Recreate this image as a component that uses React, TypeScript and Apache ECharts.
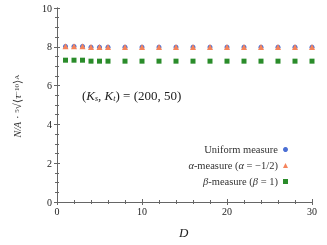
import React, { useEffect, useRef } from "react";
import * as echarts from "echarts";

const dValues = [1, 2, 3, 4, 5, 6, 8, 10, 12, 14, 16, 18, 20, 22, 24, 26, 28, 30];
const uniformValues = [8.02, 8.02, 8.02, 7.98, 7.98, 7.98, 7.98, 7.98, 7.98, 7.98, 7.98, 7.98, 7.98, 7.98, 7.98, 7.98, 7.98, 7.98];
const alphaValues = [8.03, 8.03, 8.03, 7.99, 7.99, 7.99, 7.99, 7.99, 7.99, 7.99, 7.99, 7.99, 7.99, 7.99, 7.99, 7.99, 7.99, 7.99];
const betaValues = [7.31, 7.31, 7.31, 7.26, 7.26, 7.26, 7.26, 7.26, 7.26, 7.26, 7.26, 7.26, 7.26, 7.26, 7.26, 7.26, 7.26, 7.26];

const FONT = "'Liberation Serif', 'DejaVu Serif', serif";
const AXIS_COLOR = "#666";

const pair = (ys: number[]) => dValues.map((d, i) => [d, ys[i]]);

export default function App() {
  const ref = useRef<HTMLDivElement>(null);
  useEffect(() => {
    if (!ref.current) return;
    const chart = echarts.init(ref.current, undefined, { renderer: "svg" });
    const axisCommon = {
      axisLine: { show: true, lineStyle: { color: AXIS_COLOR, width: 1 } },
      axisTick: { show: true, inside: true, length: 3, lineStyle: { color: AXIS_COLOR } },
      minorTick: { show: true, length: 2, lineStyle: { color: AXIS_COLOR } },
      splitLine: { show: false },
    };
    chart.setOption({
      animation: false,
      textStyle: { fontFamily: FONT },
      grid: { left: 57, right: 15, top: 8, bottom: 43 },
      xAxis: [
        {
          type: "value",
          min: 0,
          max: 30,
          interval: 10,
          ...axisCommon,
          minorTick: { ...axisCommon.minorTick, splitNumber: 5 },
          axisLabel: { color: "#222", fontFamily: FONT, fontSize: 10, margin: 4 },
        },
        {
          type: "value",
          position: "top",
          min: 0,
          max: 30,
          interval: 10,
          ...axisCommon,
          minorTick: { ...axisCommon.minorTick, splitNumber: 5 },
          axisLabel: { show: false },
        },
      ],
      yAxis: [
        {
          type: "value",
          min: 0,
          max: 10,
          interval: 2,
          ...axisCommon,
          minorTick: { ...axisCommon.minorTick, splitNumber: 4 },
          axisLabel: { color: "#222", fontFamily: FONT, fontSize: 10, margin: 5 },
        },
        {
          type: "value",
          position: "right",
          min: 0,
          max: 10,
          interval: 2,
          ...axisCommon,
          minorTick: { ...axisCommon.minorTick, splitNumber: 4 },
          axisLabel: { show: false },
        },
      ],
      legend: {
        orient: "vertical",
        right: 34,
        top: 139,
        align: "right",
        itemWidth: 5,
        itemHeight: 5,
        itemGap: 5,
        textStyle: {
          fontFamily: FONT,
          fontSize: 10.5,
          color: "#333",
          padding: [0, 0, 0, 0],
          rich: {
            i: { fontStyle: "italic", fontFamily: FONT, fontSize: 10.5, color: "#333" },
          },
        },
        formatter: (name: string) => {
          if (name === "alpha") return "{i|α}-measure ({i|α} = −1/2)";
          if (name === "beta") return "{i|β}-measure ({i|β} = 1)";
          return "Uniform measure";
        },
        data: ["uniform", "alpha", "beta"],
      },
      series: [
        {
          name: "uniform",
          type: "scatter",
          symbol: "circle",
          symbolSize: 5,
          itemStyle: { color: "#4b6fd4", opacity: 1 },
          data: pair(uniformValues),
        },
        {
          name: "alpha",
          type: "scatter",
          symbol: "triangle",
          symbolSize: 6,
          itemStyle: { color: "#f5845c", opacity: 1 },
          data: pair(alphaValues),
        },
        {
          name: "beta",
          type: "scatter",
          symbol: "rect",
          symbolSize: 5,
          itemStyle: { color: "#2a8c2a", opacity: 1 },
          data: pair(betaValues),
        },
      ],
      graphic: [
        {
          type: "text",
          left: 82,
          top: 89,
          style: {
            text: "({i|K}{s|s}, {i|K}{s|t}) = (200, 50)",
            font: `13px ${FONT}`,
            fill: "#222",
            rich: {
              i: { fontStyle: "italic", fontFamily: FONT, fontSize: 13, fill: "#222" },
              s: { fontStyle: "italic", fontFamily: FONT, fontSize: 8, fill: "#222", padding: [6, 0, 0, 0] },
            },
          },
        },
        {
          type: "text",
          x: 179,
          y: 226,
          style: {
            text: "D",
            font: `italic 13px ${FONT}`,
            fill: "#222",
          },
        },
        {
          type: "text",
          x: 17,
          y: 106,
          rotation: Math.PI / 2,
          style: {
            text: "{f|N/A} · {r|5}√⟨{i|τ}{r|−10}⟩{r|A}",
            font: `11px ${FONT}`,
            fill: "#333",
            align: "center",
            verticalAlign: "middle",
            rich: {
              f: { fontStyle: "italic", fontFamily: FONT, fontSize: 10, fill: "#333" },
              i: { fontStyle: "italic", fontFamily: FONT, fontSize: 11, fill: "#333" },
              r: { fontFamily: FONT, fontSize: 7, fill: "#333" },
            },
          },
        },
      ],
    });
    return () => chart.dispose();
  }, []);
  return <div ref={ref} style={{ position: "fixed", left: 0, top: 0, width: 327, height: 245 }} />;
}
